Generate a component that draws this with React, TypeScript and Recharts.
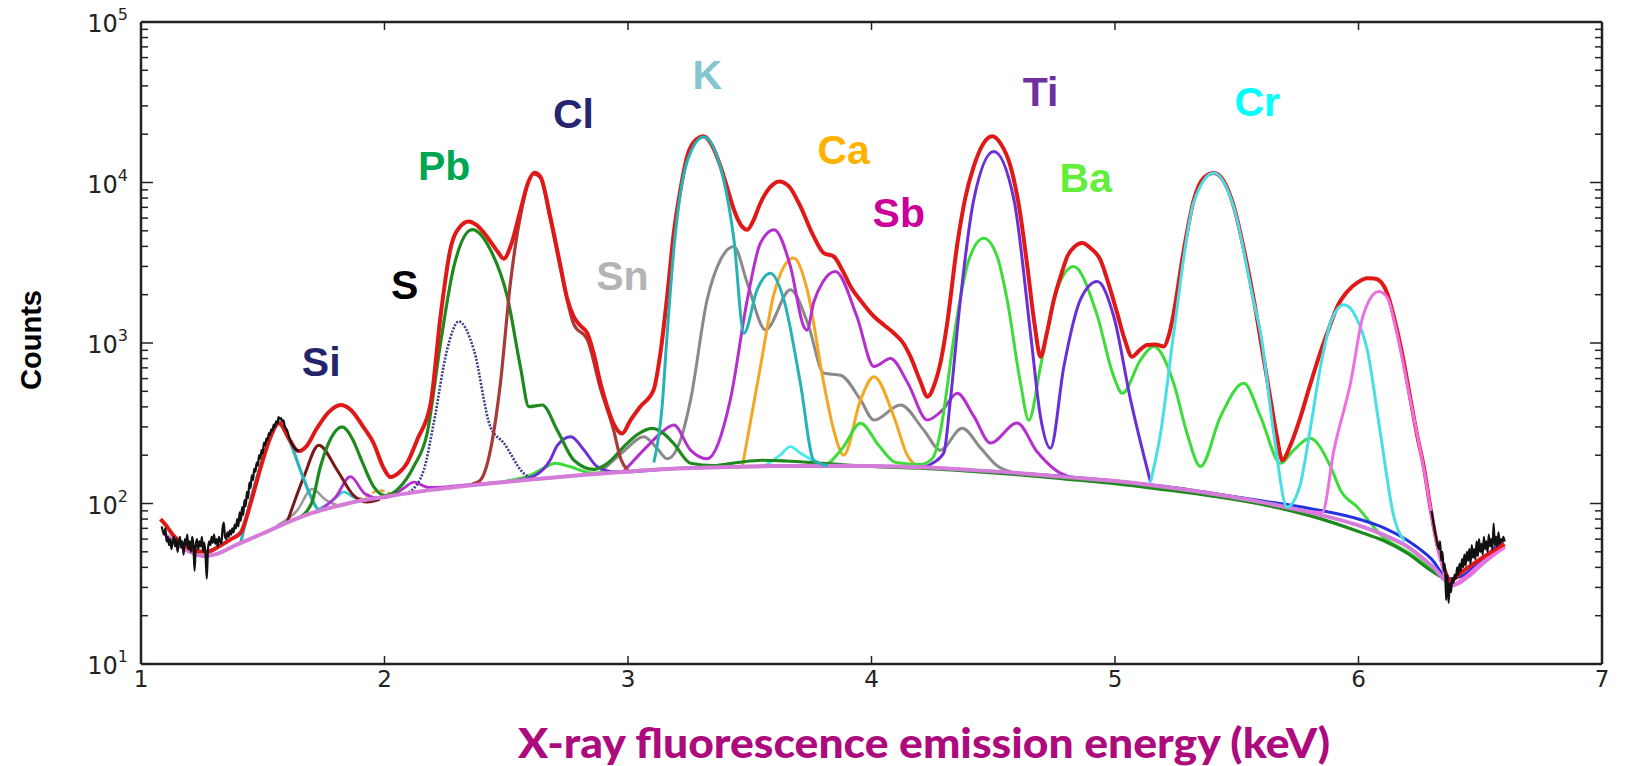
import React from 'react';
import { LineChart, Line, XAxis, YAxis, ReferenceDot, Customized } from 'recharts';

type P = [number, number];

// ---------- axis ticks ----------
const xTicks = [1, 2, 3, 4, 5, 6, 7];
const yMajor = [10, 100, 1000, 10000, 100000];
const yMinorFactors = [2, 3, 4, 5, 6, 7, 8, 9];
const yTicks: number[] = [];
yMajor.forEach((d, i) => {
  yTicks.push(d);
  if (i < yMajor.length - 1) yMinorFactors.forEach((m) => yTicks.push(m * d));
});
const frameCorners: P[] = [[1, 10], [7, 100000]];

// ---------- element labels ----------
const labelNames = ['Si', 'S', 'Pb', 'Cl', 'Sn', 'K', 'Ca', 'Sb', 'Ti', 'Ba', 'Cr'];
const labelX = [1.74, 2.083, 2.245, 2.776, 2.977, 3.326, 3.886, 4.112, 4.694, 4.88, 5.584];
const labelY = [766, 2320, 12740, 26850, 2650, 47300, 16200, 6530, 37000, 10800, 32200];
const labelColors = ['#24246B', '#000000', '#00A651', '#252572', '#B4B4B4', '#82C6D0', '#FFB300', '#CC0099', '#7030A0', '#62EE3A', '#00FFFF'];

// ---------- measured counts (noisy ends) ----------
const dataLeft: P[] = [
  [1.085, 72], [1.095, 64], [1.1, 70], [1.105, 58], [1.11, 62], [1.115, 55], [1.12, 60], [1.125, 52], [1.13, 58], [1.135, 62],
  [1.14, 54], [1.145, 60], [1.15, 50], [1.155, 57], [1.16, 62], [1.165, 53], [1.17, 58], [1.175, 48], [1.18, 60], [1.185, 55],
  [1.19, 64], [1.195, 52], [1.2, 58], [1.205, 50], [1.21, 62], [1.215, 56], [1.22, 38], [1.225, 55], [1.23, 60], [1.235, 52],
  [1.24, 58], [1.245, 54], [1.25, 62], [1.255, 50], [1.26, 57], [1.265, 48], [1.27, 34], [1.275, 52], [1.28, 58], [1.285, 55],
  [1.29, 62], [1.295, 57], [1.3, 64], [1.305, 56], [1.31, 60], [1.315, 54], [1.32, 62], [1.325, 58], [1.33, 56], [1.335, 70],
  [1.34, 76], [1.345, 62], [1.35, 60], [1.355, 66], [1.36, 62], [1.365, 68], [1.37, 64], [1.375, 70], [1.38, 66], [1.385, 74],
  [1.39, 70], [1.395, 80], [1.4, 72], [1.405, 88], [1.41, 78], [1.415, 95], [1.42, 85], [1.425, 105], [1.43, 96], [1.435, 118],
  [1.44, 108], [1.445, 135], [1.45, 125], [1.455, 150], [1.46, 140], [1.465, 165], [1.47, 158], [1.475, 180], [1.48, 172], [1.485, 200],
  [1.49, 190], [1.495, 215], [1.5, 205], [1.505, 240], [1.51, 230], [1.515, 255], [1.52, 248], [1.525, 275], [1.53, 268], [1.535, 290],
  [1.54, 285], [1.545, 310], [1.55, 300], [1.555, 325], [1.56, 315], [1.565, 345], [1.57, 335], [1.575, 340], [1.58, 325], [1.585, 330],
  [1.59, 305], [1.6, 285], [1.61, 255], [1.62, 235], [1.63, 222], [1.64, 215], [1.65, 212],
];
const dataRight: P[] = [
  [6.3, 90], [6.31, 72], [6.32, 60], [6.33, 52], [6.335, 58], [6.34, 44], [6.345, 50], [6.35, 38], [6.355, 42], [6.36, 25],
  [6.365, 36], [6.37, 24], [6.375, 32], [6.38, 28], [6.385, 34], [6.39, 32], [6.395, 36], [6.4, 34], [6.405, 40], [6.41, 36],
  [6.415, 42], [6.42, 38], [6.425, 45], [6.43, 40], [6.435, 48], [6.44, 41], [6.445, 50], [6.45, 44], [6.455, 52], [6.46, 42],
  [6.465, 55], [6.47, 46], [6.475, 52], [6.48, 45], [6.485, 58], [6.49, 47], [6.495, 60], [6.5, 50], [6.505, 56], [6.51, 48],
  [6.515, 62], [6.52, 52], [6.525, 58], [6.53, 50], [6.535, 64], [6.54, 54], [6.545, 60], [6.55, 52], [6.555, 75], [6.56, 55],
  [6.565, 62], [6.57, 54], [6.575, 66], [6.58, 56], [6.585, 60], [6.59, 58], [6.595, 62], [6.6, 58],
];

// ---------- total fit ----------
const totalFit: P[] = [
  [1.08, 80], [1.1, 74], [1.13, 64], [1.17, 56], [1.22, 51], [1.27, 50], [1.32, 54], [1.37, 60], [1.41, 66], [1.45, 100],
  [1.49, 165], [1.53, 255], [1.566, 318], [1.61, 250], [1.647, 212], [1.68, 228], [1.72, 290], [1.77, 370], [1.82, 411], [1.86, 385],
  [1.91, 305], [1.955, 238], [1.995, 168], [2.025, 146], [2.06, 156], [2.093, 179], [2.134, 249], [2.19, 423], [2.23, 1462], [2.27, 3806],
  [2.31, 5300], [2.345, 5720], [2.38, 5400], [2.42, 4610], [2.465, 3700], [2.49, 3350], [2.52, 4100], [2.558, 6700], [2.59, 10000], [2.615, 11500],
  [2.64, 10900], [2.68, 6200], [2.723, 3000], [2.75, 1900], [2.778, 1450], [2.805, 1280], [2.833, 1150], [2.86, 850], [2.887, 561], [2.915, 400],
  [2.94, 316], [2.976, 273], [3.01, 330], [3.05, 401], [3.105, 509], [3.133, 863], [3.16, 1900], [3.188, 4838], [3.215, 9000], [3.243, 14550],
  [3.28, 18500], [3.311, 19400], [3.345, 17000], [3.38, 12590], [3.41, 9000], [3.435, 6760], [3.465, 5400], [3.49, 5080], [3.515, 5800], [3.544, 7450],
  [3.58, 9200], [3.62, 10160], [3.66, 9500], [3.708, 7100], [3.76, 4700], [3.804, 3630], [3.845, 3460], [3.88, 2850], [3.914, 2250], [3.96, 1800],
  [4.01, 1462], [4.05, 1300], [4.092, 1150], [4.13, 1000], [4.16, 822], [4.2, 580], [4.23, 463], [4.26, 560], [4.283, 750], [4.31, 1300],
  [4.352, 4100], [4.385, 8000], [4.42, 12600], [4.46, 17500], [4.496, 19400], [4.53, 17500], [4.571, 12600], [4.61, 6500], [4.64, 3000], [4.67, 1300],
  [4.694, 822], [4.72, 1150], [4.749, 1862], [4.78, 2700], [4.804, 3460], [4.835, 4000], [4.865, 4200], [4.9, 3900], [4.94, 3296], [4.975, 2300],
  [5.009, 1535], [5.04, 1050], [5.07, 822], [5.1, 900], [5.132, 973], [5.165, 980], [5.2, 950], [5.22, 1100], [5.241, 1535], [5.28, 3600],
  [5.324, 7820], [5.365, 10700], [5.406, 11480], [5.445, 10300], [5.488, 7100], [5.53, 3800], [5.57, 1862], [5.605, 900], [5.639, 442], [5.665, 260],
  [5.687, 186], [5.72, 230], [5.762, 347], [5.8, 540], [5.844, 880], [5.88, 1250], [5.913, 1687], [5.955, 2100], [5.995, 2380], [6.036, 2535],
  [6.065, 2520], [6.09, 2415], [6.12, 2000], [6.145, 1462], [6.18, 850], [6.214, 442], [6.24, 270], [6.268, 170], [6.295, 95], [6.323, 56],
  [6.35, 40], [6.378, 33], [6.42, 37], [6.5, 45], [6.6, 56],
];

// ---------- backgrounds ----------
const bgPink: P[] = [
  [1.09, 66], [1.15, 56], [1.2, 50], [1.26, 47], [1.3, 48], [1.4, 56], [1.5, 65], [1.6, 76], [1.7, 87], [1.8, 96], [1.9, 104],
  [2.0, 110], [2.2, 122], [2.4, 132], [2.6, 141], [2.8, 150], [3.0, 158], [3.2, 165], [3.4, 169], [3.6, 171], [3.8, 172],
  [4.0, 171], [4.2, 168], [4.4, 162], [4.6, 155], [4.8, 146], [5.0, 138], [5.2, 127], [5.4, 115], [5.6, 102], [5.8, 88],
  [6.0, 73], [6.1, 64], [6.2, 54], [6.3, 41], [6.39, 31], [6.45, 35], [6.5, 41], [6.6, 54],
];
const bgBlue: P[] = [
  [4.4, 162], [4.7, 151], [5.0, 138], [5.2, 128], [5.4, 116], [5.6, 104], [5.8, 93], [6.0, 80], [6.1, 71], [6.2, 59],
  [6.3, 45], [6.37, 34], [6.42, 35], [6.5, 44], [6.6, 60],
];

// ---------- fitted components ----------
const siTeal: P[] = [[1.41, 57], [1.45, 105], [1.49, 170], [1.532, 260], [1.566, 312], [1.614, 238], [1.655, 161], [1.696, 112], [1.73, 92], [1.78, 94]];
const siGray: P[] = [[1.56, 73], [1.64, 90], [1.703, 123], [1.76, 105], [1.82, 96]];
const siMaroon: P[] = [[1.6, 76], [1.669, 147], [1.73, 231], [1.806, 161], [1.874, 112], [1.93, 102], [1.98, 106]];
const siCyan: P[] = [[1.72, 90], [1.79, 105], [1.833, 118], [1.88, 108], [1.94, 105]];
const siOrange: P[] = [[1.86, 101], [1.93, 112], [1.98, 121], [2.02, 116], [2.07, 114]];
const siMagenta: P[] = [
  [1.72, 88], [1.8, 110], [1.86, 147], [1.92, 115], [1.98, 108], [2.03, 112], [2.08, 125], [2.12, 136], [2.18, 126],
  [2.25, 127], [2.35, 131], [2.45, 135], [2.55, 139],
];
const sNavy: P[] = [
  [2.1, 117], [2.161, 161], [2.202, 316], [2.257, 906], [2.305, 1362], [2.367, 906], [2.435, 300], [2.49, 238], [2.572, 154], [2.62, 142],
];
const pbGreen: P[] = [
  [1.64, 80], [1.7, 100], [1.737, 170], [1.78, 255], [1.826, 300], [1.87, 250], [1.9, 195], [1.956, 127], [2.004, 112], [2.06, 125],
  [2.12, 170], [2.175, 273], [2.23, 998], [2.285, 3000], [2.36, 5080], [2.435, 3806], [2.504, 1950], [2.558, 713], [2.593, 401], [2.648, 411],
  [2.71, 285], [2.778, 186], [2.86, 163], [2.92, 180], [2.983, 226], [3.04, 270], [3.1, 294], [3.15, 270], [3.188, 236], [3.257, 178],
  [3.35, 172], [3.45, 180], [3.55, 186], [3.65, 184], [3.8, 178], [4.0, 170], [4.2, 166], [4.4, 159], [4.6, 151], [4.8, 142],
  [5.0, 133], [5.2, 122], [5.4, 111], [5.6, 99], [5.8, 84], [6.0, 67], [6.1, 59], [6.2, 49], [6.3, 38], [6.38, 32],
];
const clBrown: P[] = [
  [2.36, 132], [2.394, 140], [2.435, 215], [2.476, 561], [2.517, 2360], [2.558, 6150], [2.612, 11300], [2.64, 10700], [2.68, 6000],
  [2.723, 2900], [2.778, 1300], [2.833, 1050], [2.887, 520], [2.94, 290], [2.97, 190], [3.0, 160],
];
const tiPurple: P[] = [
  [2.55, 140], [2.62, 150], [2.68, 186], [2.71, 230], [2.765, 261], [2.82, 215], [2.873, 170], [2.95, 157], [3.2, 165], [3.6, 171],
  [4.0, 171], [4.2, 168], [4.255, 180], [4.297, 207], [4.324, 442], [4.365, 1862], [4.42, 7820], [4.502, 15600], [4.585, 7820], [4.653, 1150],
  [4.694, 347], [4.735, 221], [4.79, 713], [4.858, 1862], [4.927, 2415], [4.995, 1462], [5.064, 442], [5.146, 136],
];
const baGreen: P[] = [
  [2.5, 138], [2.6, 150], [2.66, 168], [2.7, 178], [2.76, 170], [2.85, 155], [2.95, 157], [3.1, 163], [3.4, 169], [3.8, 172],
  [3.88, 220], [3.955, 316], [4.03, 230], [4.1, 180], [4.2, 175], [4.249, 190], [4.283, 280], [4.31, 520], [4.335, 1000], [4.365, 1900],
  [4.4, 3300], [4.461, 4500], [4.516, 3460], [4.557, 1862], [4.612, 561], [4.646, 330], [4.694, 713], [4.749, 1862], [4.83, 3000], [4.924, 1535],
  [4.995, 617], [5.03, 486], [5.105, 785], [5.159, 950], [5.241, 561], [5.296, 273], [5.351, 170], [5.433, 347], [5.529, 561], [5.598, 347],
  [5.68, 178], [5.734, 215], [5.8, 255], [5.885, 170], [5.926, 121], [5.995, 95], [6.1, 62], [6.2, 50], [6.3, 39], [6.38, 32],
];
const snGray: P[] = [
  [2.88, 153], [2.98, 210], [3.065, 261], [3.12, 220], [3.161, 190], [3.216, 250], [3.257, 442], [3.325, 1862], [3.38, 3300], [3.435, 3990],
  [3.49, 2360], [3.565, 1208], [3.667, 2144], [3.74, 1300], [3.804, 649], [3.873, 630], [3.955, 442], [4.01, 331], [4.119, 411], [4.215, 286],
  [4.283, 215], [4.372, 294], [4.45, 220], [4.516, 172], [4.58, 156],
];
const kTeal: P[] = [
  [3.106, 180], [3.14, 400], [3.161, 1150], [3.188, 3800], [3.243, 13500], [3.311, 19200], [3.38, 12400], [3.435, 4400], [3.476, 1150],
  [3.53, 2144], [3.585, 2720], [3.64, 1862], [3.708, 561], [3.763, 186], [3.82, 172],
];
const kCyan: P[] = [[3.56, 171], [3.625, 200], [3.667, 226], [3.71, 205], [3.8, 172]];
const caOrange: P[] = [
  [3.47, 171], [3.544, 713], [3.6, 2040], [3.68, 3380], [3.736, 2144], [3.804, 561], [3.845, 286], [3.886, 200], [3.955, 442], [4.01, 617],
  [4.092, 347], [4.147, 200], [4.2, 168],
];
const sbMagenta: P[] = [
  [2.98, 157], [3.092, 238], [3.133, 273], [3.188, 308], [3.257, 215], [3.325, 190], [3.42, 442], [3.49, 1862], [3.544, 4200], [3.6, 5080],
  [3.667, 3000], [3.722, 1265], [3.735, 1200], [3.763, 1800], [3.8, 2400], [3.852, 2790], [3.94, 1462], [4.01, 713], [4.078, 800], [4.15, 560],
  [4.229, 331], [4.29, 380], [4.352, 486], [4.42, 350], [4.489, 238], [4.598, 317], [4.68, 210], [4.76, 160], [4.82, 145],
];
const crCyan: P[] = [
  [5.146, 136], [5.187, 273], [5.241, 1150], [5.324, 7600], [5.406, 11480], [5.488, 7000], [5.57, 1800], [5.598, 1150], [5.652, 273],
  [5.707, 95], [5.76, 130], [5.8, 280], [5.844, 713], [5.885, 1330], [5.94, 1730], [5.99, 1450], [6.036, 906], [6.09, 273], [6.145, 83], [6.19, 58],
];
const crPink: P[] = [
  [5.8, 89], [5.851, 88], [5.899, 215], [5.967, 561], [6.02, 1500], [6.083, 2090], [6.12, 1900], [6.145, 1400], [6.214, 430], [6.268, 165],
  [6.323, 55], [6.378, 31], [6.45, 36], [6.5, 42], [6.6, 53],
];

// ---------- series styling (drawn in this order) ----------
const seriesStyle: { pts: P[]; color: string; w: number; dash?: string }[] = [
  { pts: siGray, color: '#9A9A9A', w: 2.5 },
  { pts: siCyan, color: '#33C9D2', w: 2.5 },
  { pts: siOrange, color: '#E8A040', w: 2.5, dash: '5 3' },
  { pts: siMagenta, color: '#B52FCF', w: 2.8 },
  { pts: siMaroon, color: '#7B1818', w: 3 },
  { pts: siTeal, color: '#2BB5B8', w: 3.2 },
  { pts: snGray, color: '#8A8A8A', w: 3 },
  { pts: kCyan, color: '#4CE8F0', w: 2.8 },
  { pts: caOrange, color: '#F5A623', w: 3 },
  { pts: sbMagenta, color: '#B52FCF', w: 3 },
  { pts: baGreen, color: '#3EDC3A', w: 3 },
  { pts: tiPurple, color: '#6B2FD8', w: 3 },
  { pts: pbGreen, color: '#1E8A1E', w: 3.2 },
  { pts: sNavy, color: '#3B3B8F', w: 2.6, dash: '2 1.5' },
  { pts: clBrown, color: '#A83A3A', w: 3.2 },
  { pts: bgBlue, color: '#2233DD', w: 3 },
  { pts: bgPink, color: '#D57BD8', w: 4 },
  { pts: totalFit, color: '#E01818', w: 4 },
  { pts: kTeal, color: '#27B3B5', w: 3 },
  { pts: crCyan, color: '#48DEE6', w: 3 },
  { pts: crPink, color: '#EE6FE0', w: 3 },
  { pts: dataLeft, color: '#111111', w: 2.2 },
  { pts: dataRight, color: '#111111', w: 2.2 },
];

const toData = (pts: P[]) => pts.map(([x, y]) => ({ x, y }));

const isMajor = (v: number) => yMajor.some((m) => Math.abs(m - v) < 1e-6);

const LeftTick = (props: any) => {
  const { x, y, payload } = props;
  const v = payload.value;
  const ax = x + 13;
  const major = isMajor(v);
  return (
    <g>
      <line x1={ax} x2={ax + (major ? 12 : 7)} y1={y} y2={y} stroke="#222" strokeWidth={1.5} />
      {major && (
        <text x={x} y={y + 10} textAnchor="end" fontFamily="'DejaVu Sans', sans-serif" fontSize={24} fill="#222">
          10<tspan dy={-12} fontSize={16}>{Math.round(Math.log10(v))}</tspan>
        </text>
      )}
    </g>
  );
};

const RightTick = (props: any) => {
  const { x, y, payload } = props;
  const major = isMajor(payload.value);
  return <line x1={x - (major ? 12 : 7)} x2={x} y1={y} y2={y} stroke="#222" strokeWidth={1.5} />;
};

const BottomTick = (props: any) => {
  const { x, y, payload } = props;
  return (
    <g>
      <line x1={x} x2={x} y1={y} y2={y - 8} stroke="#222" strokeWidth={1.5} />
      <text x={x} y={y + 23} textAnchor="middle" fontFamily="'DejaVu Sans', sans-serif" fontSize={23} fill="#222">
        {payload.value}
      </text>
    </g>
  );
};

const TopTick = (props: any) => {
  const { x, y } = props;
  return <line x1={x} x2={x} y1={y} y2={y + 8} stroke="#222" strokeWidth={1.5} />;
};

const Titles = () => (
  <g>
    <text
      x={518}
      y={758}
      fontFamily="Lato, 'Open Sans', sans-serif"
      fontWeight={900}
      fontSize={41}
      fill="#AD0A7D"
      textLength={812}
      lengthAdjust="spacingAndGlyphs"
    >
      X-ray fluorescence emission energy (keV)
    </text>
    <text
      transform="translate(41,340) rotate(-90)"
      textAnchor="middle"
      fontFamily="'Liberation Sans', Arial, sans-serif"
      fontWeight="bold"
      fontSize={29}
      fill="#000"
    >
      Counts
    </text>
  </g>
);

export default function App() {
  return (
    <div style={{ position: 'absolute', left: 0, top: 0, width: 1625, height: 766, background: '#fff' }}>
      <LineChart width={1625} height={766} margin={{ top: 21, right: 22, bottom: 62, left: 0 }}>
        <XAxis
          xAxisId={0}
          dataKey="x"
          type="number"
          domain={[1, 7]}
          ticks={xTicks}
          interval={0}
          allowDataOverflow
          height={40}
          tickSize={0}
          tickMargin={0}
          tickLine={false}
          tick={<BottomTick />}
          axisLine={{ stroke: '#222', strokeWidth: 2.5 }}
        />
        <XAxis
          xAxisId="top"
          orientation="top"
          dataKey="x"
          type="number"
          domain={[1, 7]}
          ticks={xTicks}
          interval={0}
          allowDataOverflow
          height={1}
          tickSize={0}
          tickMargin={0}
          tickLine={false}
          tick={<TopTick />}
          axisLine={{ stroke: '#222', strokeWidth: 2.5 }}
        />
        <YAxis
          yAxisId={0}
          type="number"
          scale="log"
          domain={[10, 100000]}
          ticks={yTicks}
          interval={0}
          allowDataOverflow
          width={141}
          tickSize={0}
          tickMargin={13}
          tickLine={false}
          tick={<LeftTick />}
          axisLine={{ stroke: '#222', strokeWidth: 2.5 }}
        />
        <YAxis
          yAxisId="right"
          orientation="right"
          type="number"
          scale="log"
          domain={[10, 100000]}
          ticks={yTicks}
          interval={0}
          allowDataOverflow
          width={1}
          tickSize={0}
          tickMargin={0}
          tickLine={false}
          tick={<RightTick />}
          axisLine={{ stroke: '#222', strokeWidth: 2.5 }}
        />
        <Line
          xAxisId="top"
          yAxisId="right"
          data={toData(frameCorners)}
          dataKey="y"
          stroke="none"
          dot={false}
          activeDot={false}
          isAnimationActive={false}
        />
        {seriesStyle.map((s, i) => (
          <Line
            key={i}
            data={toData(s.pts)}
            dataKey="y"
            type="monotone"
            stroke={s.color}
            strokeWidth={s.w}
            strokeDasharray={s.dash}
            strokeLinejoin="round"
            dot={false}
            activeDot={false}
            isAnimationActive={false}
          />
        ))}
        {labelNames.map((name, i) => (
          <ReferenceDot
            key={name}
            x={labelX[i]}
            y={labelY[i]}
            r={1}
            fill="none"
            stroke="none"
            ifOverflow="visible"
            label={(p: any) => {
              const vb = p.viewBox || {};
              const cx = (vb.x ?? 0) + (vb.width ?? 0) / 2;
              const cy = (vb.y ?? 0) + (vb.height ?? 0) / 2;
              return (
                <text
                  x={cx}
                  y={cy}
                  dy="0.36em"
                  textAnchor="middle"
                  fontFamily="'Liberation Sans', Arial, sans-serif"
                  fontWeight="bold"
                  fontSize={41}
                  fill={labelColors[i]}
                >
                  {name}
                </text>
              );
            }}
          />
        ))}
        <Customized component={<Titles />} />
      </LineChart>
    </div>
  );
}
